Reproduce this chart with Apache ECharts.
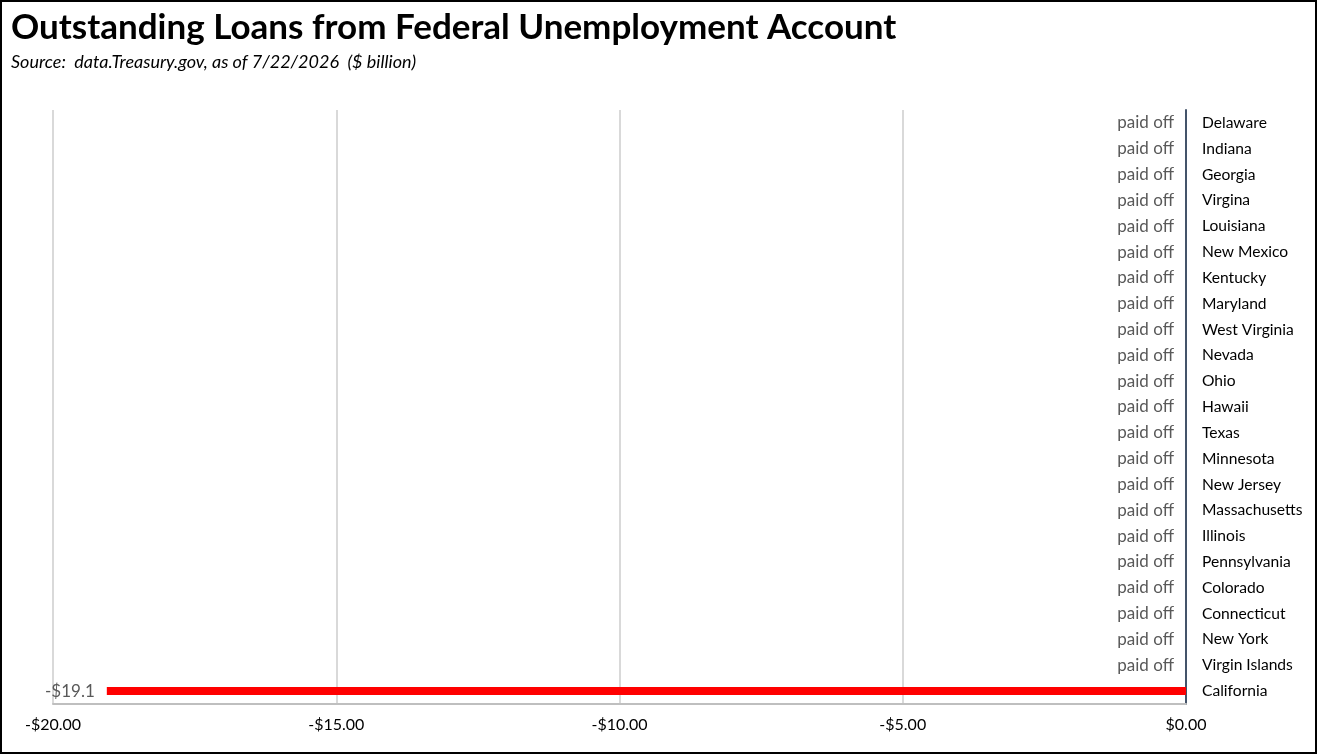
<!DOCTYPE html>
<html><head><meta charset="utf-8">
<script src="https://cdn.jsdelivr.net/npm/echarts@6/dist/echarts.min.js"></script>
<style>html,body{margin:0;padding:0;background:#fff}#c{width:1317px;height:754px}</style>
</head><body><div id="c"></div>
<script>
const categories = ["Delaware","Indiana","Georgia","Virgina","Louisiana","New Mexico","Kentucky","Maryland","West Virginia","Nevada","Ohio","Hawaii","Texas","Minnesota","New Jersey","Massachusetts","Illinois","Pennsylvania","Colorado","Connecticut","New York","Virgin Islands","California"];
const values = [0,0,0,0,0,0,0,0,0,0,0,0,0,0,0,0,0,0,0,0,0,0,-19.05];
const xTicks = [-20,-15,-10,-5,0];
const titleText = "Outstanding Loans from Federal Unemployment Account";
const subtitleText = "Source:  data.Treasury.gov, as of 7/22/2026  ($ billion)";

const chart = echarts.init(document.getElementById('c'));
const F = 'Lato, "Open Sans", sans-serif';
chart.setOption({
  animation:false,
  title:{text:titleText,subtext:subtitleText,left:11,top:10,itemGap:8,padding:0,
    textStyle:{fontFamily:F,fontWeight:'bold',fontSize:35,color:'#000'},
    subtextStyle:{fontFamily:F,fontStyle:'italic',fontSize:18,color:'#000'}},
  graphic:[{type:'rect',shape:{x:1,y:1,width:1315,height:752},style:{fill:'none',stroke:'#000',lineWidth:2},silent:true}],
  grid:{left:53,right:131,top:110,bottom:50},
  xAxis:{type:'value',min:xTicks[0],max:xTicks[xTicks.length-1],interval:5,
    axisLine:{show:true,lineStyle:{color:'#bfbfbf',width:2}},
    axisTick:{show:false},
    splitLine:{show:true,lineStyle:{color:'#d9d9d9',width:2}},
    axisLabel:{margin:13,fontFamily:F,fontSize:16,color:'#000',
      formatter:v=>(v<0?'-$'+Math.abs(v).toFixed(2):'$'+v.toFixed(2))}},
  yAxis:{type:'category',data:categories,inverse:true,position:'right',
    axisLine:{show:true,onZero:false,lineStyle:{color:'#44546a',width:2}},
    axisTick:{show:false},splitLine:{show:false},
    axisLabel:{margin:16,fontFamily:F,fontSize:15.6,color:'#000',align:'left'}},
  series:[{type:'bar',data:values,barWidth:8,
    itemStyle:{color:'#ff0000'},
    label:{show:true,position:'left',distance:12,fontFamily:F,fontSize:17,color:'#595959',
      formatter:p=>(p.value===0?'paid off':'-$'+Math.abs(p.value).toFixed(1))}}]
});
</script></body></html>
